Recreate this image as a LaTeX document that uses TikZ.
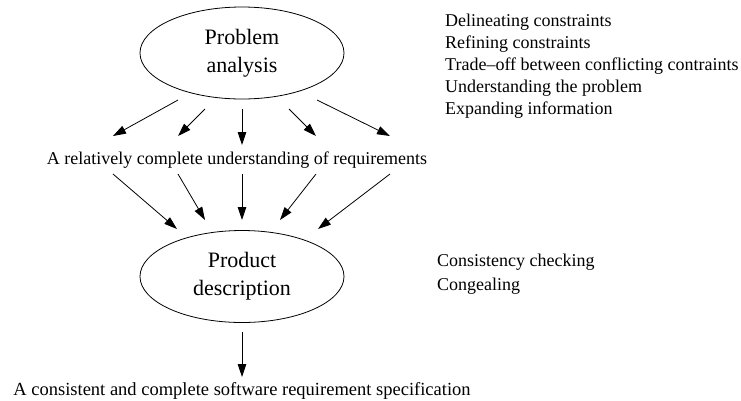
\documentclass[tikz,border=0pt]{standalone}
\usepackage{fontspec}
\setmainfont{Liberation Serif}
\usetikzlibrary{shapes.geometric,arrows.meta}
\tikzset{
  ell/.style={draw, ellipse, line width=0.8pt, minimum width=204pt, minimum height=92pt, inner sep=0pt, align=center, font=\fontsize{22}{28}\selectfont},
  lbl/.style={inner sep=0pt, font=\fontsize{18}{22}\selectfont},
  arr/.style={line width=0.8pt, -{Triangle[length=13pt,width=8.5pt]}}
}
\begin{document}
\begin{tikzpicture}[x=1pt,y=-1pt]
\useasboundingbox (0,0) rectangle (741,400);
\node[ell] (pa) at (242,53) {Problem\\analysis};
\node[ell] (pd) at (242,276.5) {Product\\description};
\node[lbl, anchor=base] (mid) at (237,164) {A relatively complete understanding of requirements};
\node[lbl, anchor=base, font=\fontsize{18.5}{22}\selectfont] (fin) at (242,395) {A consistent and complete software requirement specification};
\node[lbl, anchor=base west] (r1) at (445,26.7) {Delineating constraints};
\node[lbl, anchor=base west] (r2) at (445,48.7) {Refining constraints};
\node[lbl, anchor=base west] (r3) at (445,70.7) {Trade--off between conflicting contraints};
\node[lbl, anchor=base west] (r4) at (445,92.7) {Understanding the problem};
\node[lbl, anchor=base west] (r5) at (445,114.7) {Expanding information};
\node[lbl, anchor=base west] (c1) at (437,266.7) {Consistency checking};
\node[lbl, anchor=base west] (c2) at (437,290) {Congealing};
% arrow end points
\coordinate (s1) at (178,100); \coordinate (e1) at (113,136);
\coordinate (s2) at (205,109); \coordinate (e2) at (178,136);
\coordinate (s3) at (242,109); \coordinate (e3) at (242,145);
\coordinate (s4) at (289,109); \coordinate (e4) at (316,136);
\coordinate (s5) at (317,100); \coordinate (e5) at (390,136);
\coordinate (t1) at (113,174); \coordinate (f1) at (177,229);
\coordinate (t2) at (178,174); \coordinate (f2) at (205,220);
\coordinate (t3) at (242,174); \coordinate (f3) at (242,220);
\coordinate (t4) at (316,174); \coordinate (f4) at (280,220);
\coordinate (t5) at (390,174); \coordinate (f5) at (318,229);
\coordinate (b1) at (242,332); \coordinate (b2) at (242,377);
\foreach \i in {1,...,5} {
  \draw[arr] (s\i) -- (e\i);
  \draw[arr] (t\i) -- (f\i);
}
\draw[arr] (b1) -- (b2);
\end{tikzpicture}
\end{document}
